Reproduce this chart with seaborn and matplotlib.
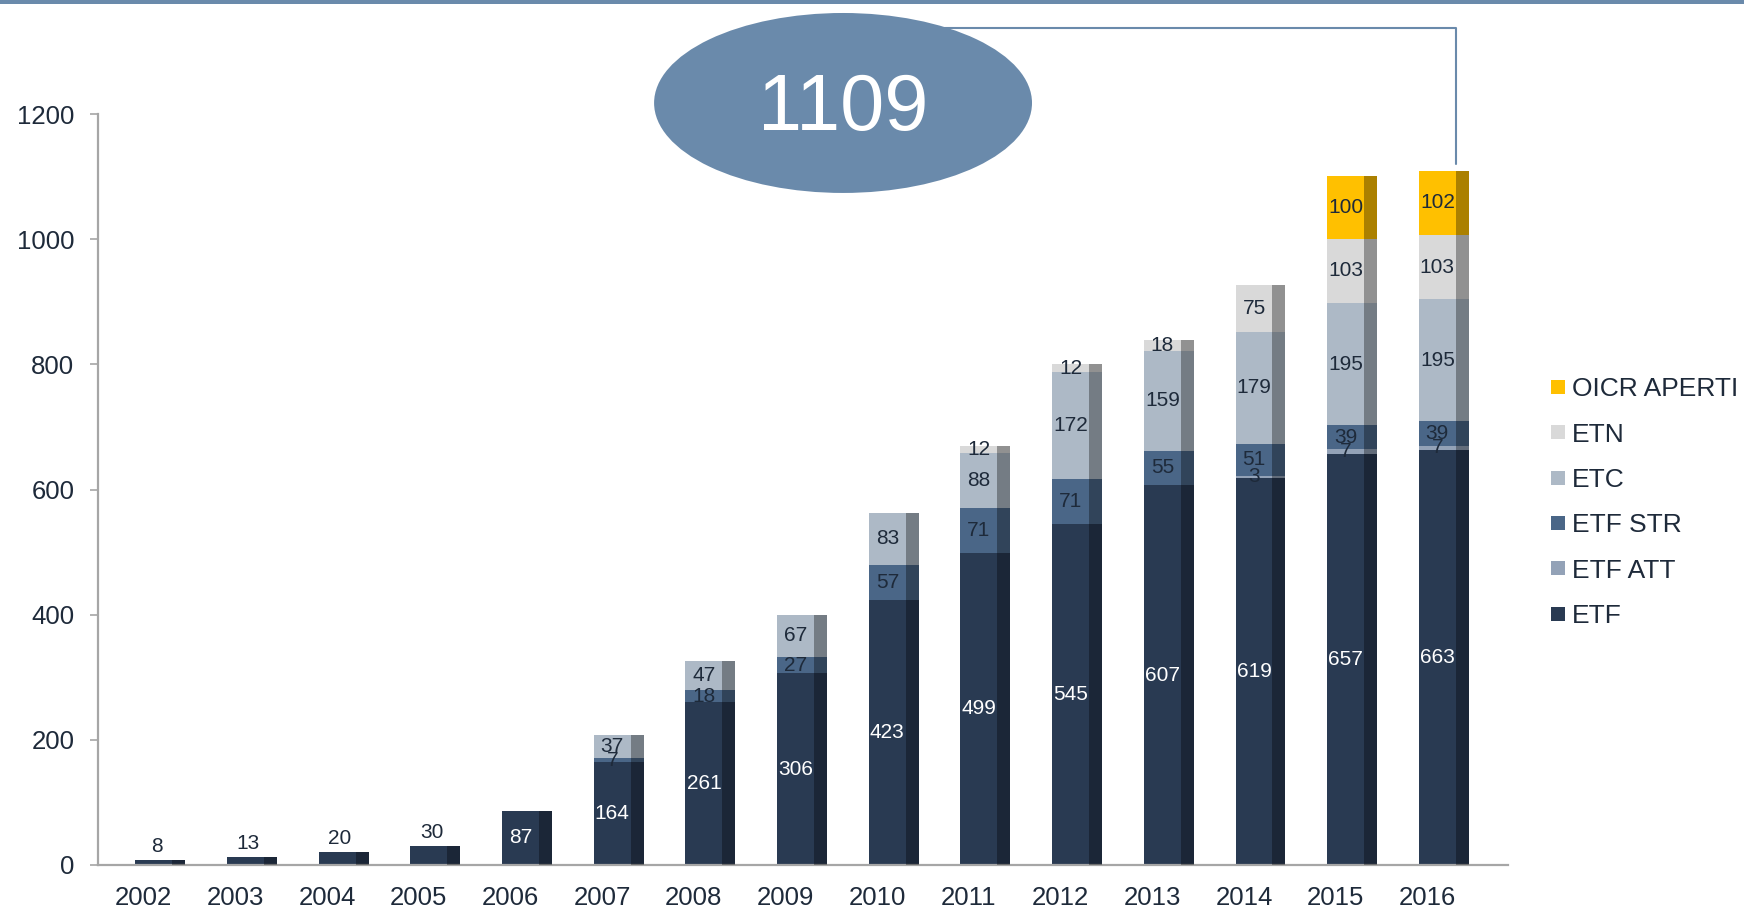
import numpy as np
import seaborn as sns
import matplotlib.pyplot as plt
from matplotlib.patches import Ellipse, Rectangle
from matplotlib.lines import Line2D

years = ["2002", "2003", "2004", "2005", "2006", "2007", "2008", "2009",
         "2010", "2011", "2012", "2013", "2014", "2015", "2016"]
etf = [8, 13, 20, 30, 87, 164, 261, 306, 423, 499, 545, 607, 619, 657, 663]
etf_att = [0, 0, 0, 0, 0, 0, 0, 0, 0, 0, 0, 0, 3, 7, 7]
etf_str = [0, 0, 0, 0, 0, 7, 18, 27, 57, 71, 71, 55, 51, 39, 39]
etc = [0, 0, 0, 0, 0, 37, 47, 67, 83, 88, 172, 159, 179, 195, 195]
etn = [0, 0, 0, 0, 0, 0, 0, 0, 0, 12, 12, 18, 75, 103, 103]
oicr = [0, 0, 0, 0, 0, 0, 0, 0, 0, 0, 0, 0, 0, 100, 102]
callout = "1109"

series = ["ETF", "ETF ATT", "ETF STR", "ETC", "ETN", "OICR APERTI"]
values = [etf, etf_att, etf_str, etc, etn, oicr]
colors = ["#293a52", "#93a2b7", "#4a6687", "#adb9c6", "#d9d9d9", "#ffc000"]

TXT = "#1e2a3a"
GRID = "#a6a6a6"
BLUE = "#6a8aab"

sns.set_style("white")
plt.rcParams["font.family"] = ["Liberation Sans", "DejaVu Sans"]

fig = plt.figure(figsize=(17.44, 9.08), dpi=100)
ax = fig.add_axes([0.0562, 0.0474, 0.8085, 0.8270])

data = np.array(values)
cum = data.cumsum(axis=0)

# stacked bars: draw cumulative heights from the top layer down
for k in range(len(series) - 1, -1, -1):
    sns.barplot(x=years, y=cum[k], color=colors[k], saturation=1,
                width=0.545, linewidth=0, ax=ax)

shift = 0.18
for p in ax.patches:
    p.set_x(p.get_x() + shift)

# darker right side (pseudo 3D)
n = len(years)
for p in list(ax.patches)[:n]:
    w = p.get_width()
    ax.add_patch(Rectangle((p.get_x() + 0.74 * w, 0), 0.26 * w, p.get_height(),
                           facecolor="black", alpha=0.33, linewidth=0, zorder=3))

# value labels
bw = 0.545
face_c = shift - bw / 2 + 0.37 * bw
for i in range(n):
    for k in range(len(series)):
        v = data[k, i]
        if v == 0:
            continue
        base = cum[k, i] - v
        if k == 0:
            if v < 50:
                ax.annotate(str(v), (i + face_c + 0.03, v), xytext=(0, 3),
                            textcoords="offset points", ha="center", va="bottom",
                            fontsize=15, color=TXT, zorder=5)
            else:
                ax.text(i + face_c, v / 2, str(v), ha="center", va="center",
                        fontsize=15, color="white", zorder=5)
        else:
            ax.text(i + face_c, base + v / 2, str(v), ha="center", va="center",
                    fontsize=15, color=TXT, zorder=5)

ax.set_ylim(0, 1200)
ax.set_xlim(-0.5, 14.88)
ax.set_yticks(range(0, 1201, 200))
ax.set_xticks(range(n))
ax.set_xticklabels(years)
ax.set_xticks(np.arange(-0.5, n, 1), minor=True)
ax.set_xlabel("")
ax.set_ylabel("")

for s in ["top", "right"]:
    ax.spines[s].set_visible(False)
for s in ["left", "bottom"]:
    ax.spines[s].set_color(GRID)
    ax.spines[s].set_linewidth(1.6)

ax.tick_params(axis="x", which="major", length=0, pad=15, labelsize=18.5, labelcolor=TXT)
ax.tick_params(axis="x", which="minor", length=4.5, width=1.2, color=GRID, direction="out")
ax.tick_params(axis="y", length=6, width=1.2, color=GRID, direction="out", left=True,
               pad=11, labelsize=18.5, labelcolor=TXT)

handles = [Line2D([], [], marker="s", linestyle="", markersize=9.5,
                  markerfacecolor=colors[k], markeredgewidth=0)
           for k in range(len(series) - 1, -1, -1)]
labels = [series[k] for k in range(len(series) - 1, -1, -1)]
leg = ax.legend(handles, labels, loc="upper left",
                bbox_to_anchor=(0.889, 0.5846), bbox_transform=fig.transFigure,
                frameon=False, fontsize=19, handlelength=0.6, handletextpad=0.2,
                labelspacing=0.81, borderpad=0, borderaxespad=0)
for t in leg.get_texts():
    t.set_color(TXT)

# top band
fig.add_artist(Rectangle((0, 1 - 4 / 908), 1, 4 / 908, transform=fig.transFigure,
                         facecolor=BLUE, linewidth=0))

# connector and callout bubble
fig.add_artist(Line2D([0.4834, 0.8349, 0.8349], [0.9692, 0.9692, 0.8194],
                      transform=fig.transFigure, color=BLUE, linewidth=1.5))
fig.add_artist(Ellipse((0.4834, 0.8866), 0.2167, 0.1982, transform=fig.transFigure,
                       facecolor=BLUE, edgecolor="none"))
fig.text(0.4834, 0.879, callout, ha="center", va="center", fontsize=57, color="white")

fig.savefig("out.png", dpi=100)
